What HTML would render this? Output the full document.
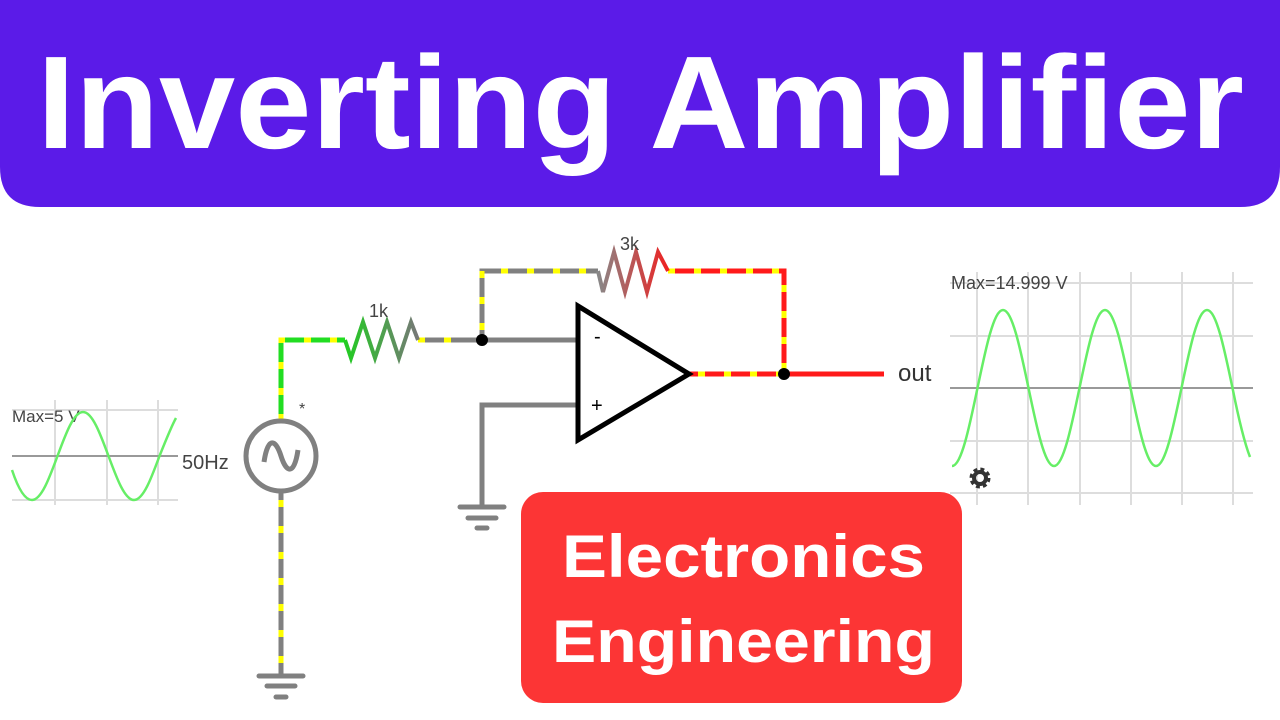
<!DOCTYPE html>
<html><head><meta charset="utf-8"><style>
html,body{margin:0;padding:0;background:#fff;}
svg{display:block}
</style></head><body>
<svg width="1280" height="720" viewBox="0 0 1280 720" xmlns="http://www.w3.org/2000/svg" font-family="Liberation Sans, sans-serif">
<rect x="0" y="0" width="1280" height="720" fill="#fff"/>
<!-- banner -->
<path d="M0,0 H1280 V167 Q1280,207 1240,207 H40 Q0,207 0,167 Z" fill="#5b1be8"/>
<text x="37" y="148" font-size="132" font-weight="bold" fill="#fff" textLength="1207" lengthAdjust="spacingAndGlyphs">Inverting Amplifier</text>

<!-- left scope grid -->
<g stroke="#ddd" stroke-width="2">
<line x1="55" y1="400" x2="55" y2="505"/><line x1="107" y1="400" x2="107" y2="505"/><line x1="158" y1="400" x2="158" y2="505"/>
<line x1="12" y1="410" x2="178" y2="410"/><line x1="12" y1="500" x2="178" y2="500"/>
</g>
<line x1="12" y1="456" x2="178" y2="456" stroke="#999" stroke-width="2"/>
<text x="12" y="422" font-size="17" fill="#444">Max=5 V</text>
<path d="M12,470 Q22,500 32,500 c 9.23,0 17.18,-21.46 25.5,-44 c 8.32,-22.54 16.27,-44 25.5,-44 c 9.23,0 17.18,21.46 25.5,44 c 8.32,22.54 16.27,44 25.5,44 c 9.23,0 17.18,-21.46 25.5,-44 c 6,-15 12,-30 16.5,-38" fill="none" stroke="#66ee66" stroke-width="2.5"/>

<!-- right scope grid -->
<g stroke="#ddd" stroke-width="2">
<line x1="977" y1="272" x2="977" y2="505"/><line x1="1028" y1="272" x2="1028" y2="505"/><line x1="1080" y1="272" x2="1080" y2="505"/><line x1="1131" y1="272" x2="1131" y2="505"/><line x1="1182" y1="272" x2="1182" y2="505"/><line x1="1233" y1="272" x2="1233" y2="505"/>
<line x1="950" y1="283" x2="1253" y2="283"/><line x1="950" y1="336" x2="1253" y2="336"/><line x1="950" y1="441" x2="1253" y2="441"/><line x1="950" y1="493" x2="1253" y2="493"/>
</g>
<line x1="950" y1="388" x2="1253" y2="388" stroke="#999" stroke-width="2"/>
<text x="951" y="289" font-size="18" fill="#444">Max=14.999 V</text>
<path d="M952,466 c 9.23,0 17.18,-38.04 25.5,-78 c 8.32,-39.96 16.27,-78 25.5,-78 c 9.23,0 17.18,38.04 25.5,78 c 8.32,39.960 16.27,78 25.5,78
 c 9.23,0 17.18,-38.04 25.5,-78 c 8.32,-39.96 16.27,-78 25.5,-78 c 9.23,0 17.18,38.04 25.5,78 c 8.32,39.96 16.27,78 25.5,78
 c 9.23,0 17.18,-38.04 25.5,-78 c 8.32,-39.96 16.27,-78 25.5,-78 c 9.23,0 17.18,38.04 25.5,78 c 6,30 12,55 17.5,69" fill="none" stroke="#66ee66" stroke-width="2.5"/>
<!-- gear -->
<circle cx="980" cy="478" r="8" fill="none" stroke="#333" stroke-width="5" stroke-dasharray="3.5 2.8"/>
<circle cx="980" cy="478" r="6" fill="none" stroke="#333" stroke-width="4"/>
<circle cx="980" cy="478" r="2.5" fill="#fff"/>

<!-- wires -->
<g fill="none" stroke-width="5" stroke-linecap="butt">
<path d="M281,421 V340 H345" stroke="#22dd22"/>
<path d="M418,340 H576" stroke="#808080"/>
<path d="M482,340 V271 H598" stroke="#808080"/>
<path d="M668,271 H784 V374" stroke="#ff1a1a"/>
<path d="M690,374 H884" stroke="#ff1a1a"/>
<path d="M576,405 H482 V507" stroke="#808080"/>
<path d="M281,491 V676" stroke="#808080"/>
</g>
<g fill="none" stroke="#ffff00" stroke-width="5" stroke-dasharray="7 19">
<path d="M281,421 V340 H345"/>
<path d="M418,340 H470"/>
<path d="M482,330 V271 H598"/>
<path d="M668,271 H784 V374"/>
<path d="M698,374 H784"/>
<path d="M281,500 V676"/>
</g>
<!-- resistors -->
<defs>
<linearGradient id="g1" x1="0" x2="1"><stop offset="0" stop-color="#22cc22"/><stop offset="1" stop-color="#777"/></linearGradient>
<linearGradient id="g2" x1="0" x2="1"><stop offset="0" stop-color="#888"/><stop offset="1" stop-color="#ee2222"/></linearGradient>
</defs>
<polyline points="345,340 351,358 363,322 375,358 387,322 399,358 411,322 418,340" fill="none" stroke="url(#g1)" stroke-width="4"/>
<polyline points="598,271 603,292 614,252 625,292 636,252 647,292 658,252 668,271" fill="none" stroke="url(#g2)" stroke-width="4"/>
<text x="369" y="317" font-size="18" fill="#444">1k</text>
<text x="620" y="250" font-size="18" fill="#444">3k</text>
<!-- op amp -->
<polygon points="578,306 578,440 689,374" fill="#fff" stroke="#000" stroke-width="5" stroke-linejoin="miter"/>
<text x="594" y="343" font-size="20" fill="#000">-</text>
<text x="591" y="412" font-size="20" fill="#000">+</text>
<circle cx="482" cy="340" r="6" fill="#000"/>
<circle cx="784" cy="374" r="6" fill="#000"/>
<text x="898" y="381" font-size="24" fill="#333">out</text>
<!-- source -->
<circle cx="281" cy="456" r="35" fill="#fff" stroke="#808080" stroke-width="5"/>
<path d="M264,462 C268,435 276,440 281,456 C286,472 294,477 298,450" fill="none" stroke="#808080" stroke-width="5"/>
<text x="182" y="469" font-size="20" fill="#444">50Hz</text>
<text x="299" y="414" font-size="16" fill="#444">*</text>
<!-- grounds -->
<g stroke="#808080" stroke-width="5" stroke-linecap="round">
<line x1="259" y1="676" x2="303" y2="676"/><line x1="267" y1="686" x2="295" y2="686"/><line x1="276" y1="697" x2="286" y2="697"/>
<line x1="460" y1="507" x2="504" y2="507"/><line x1="468" y1="518" x2="496" y2="518"/><line x1="477" y1="528" x2="487" y2="528"/>
</g>
<!-- red box -->
<rect x="521" y="492" width="441" height="211" rx="22" fill="#fc3535"/>
<text x="562" y="577" font-size="60" font-weight="bold" fill="#fff" textLength="363" lengthAdjust="spacingAndGlyphs">Electronics</text>
<text x="552" y="662" font-size="60" font-weight="bold" fill="#fff" textLength="383" lengthAdjust="spacingAndGlyphs">Engineering</text>
</svg>
</body></html>
